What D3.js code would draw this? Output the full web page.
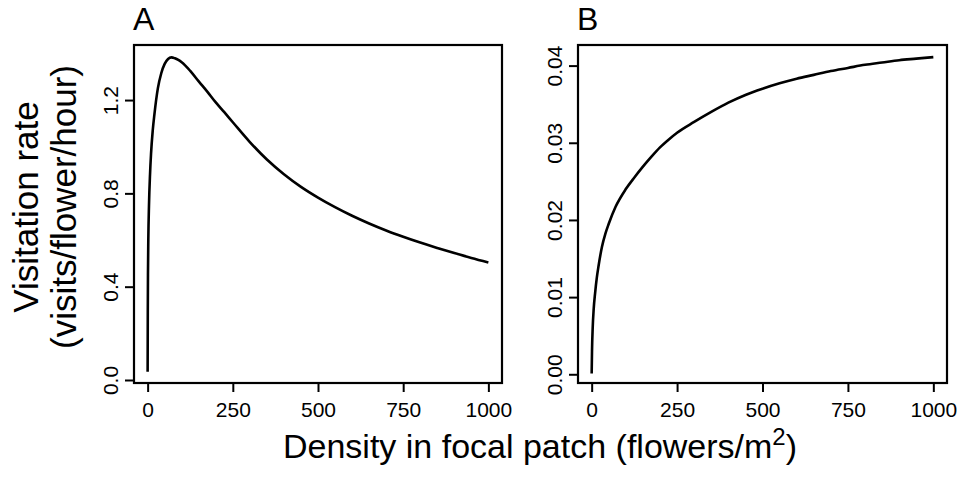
<!DOCTYPE html>
<html>
<head>
<meta charset="utf-8">
<script src="https://cdn.jsdelivr.net/npm/d3@7"></script>
<style>
  html, body { margin: 0; padding: 0; background: #fff; }
  svg { display: block; }
  text { font-family: "Liberation Sans", Arial, sans-serif; fill: #000; }
</style>
</head>
<body>
<svg id="chart" width="964" height="481"></svg>
<script>
// ---- Data ----
const densityA = [0, 0.5, 1, 2, 4, 7, 10, 15, 20, 30, 40, 50, 60, 70, 80, 90, 100, 125, 150, 175, 200, 225, 250, 300, 350, 400, 450, 500, 550, 600, 650, 700, 750, 800, 850, 900, 950, 1000];
const rateA = [0.035, 0.30, 0.45, 0.60, 0.75, 0.88, 0.97, 1.07, 1.14, 1.25, 1.315, 1.355, 1.376, 1.383, 1.379, 1.372, 1.362, 1.325, 1.28, 1.236, 1.19, 1.148, 1.105, 1.02, 0.945, 0.882, 0.828, 0.782, 0.741, 0.704, 0.671, 0.641, 0.614, 0.589, 0.566, 0.544, 0.523, 0.504];

const densityB = [0, 1, 3, 6, 10, 15, 20, 30, 40, 50, 70, 100, 125, 150, 175, 200, 225, 250, 300, 350, 400, 450, 500, 550, 600, 650, 700, 750, 800, 850, 900, 950, 1000];
const rateB = [0.0001, 0.003, 0.006, 0.0085, 0.0105, 0.0125, 0.014, 0.0165, 0.0182, 0.0195, 0.0217, 0.024, 0.0255, 0.0269, 0.0282, 0.0294, 0.0304, 0.0313, 0.0327, 0.0340, 0.0352, 0.0362, 0.0370, 0.0377, 0.0383, 0.0388, 0.0393, 0.0397, 0.0401, 0.0404, 0.0407, 0.0409, 0.0411];

const xTicks = [0, 250, 500, 750, 1000];
const yTicksA = [0, 0.4, 0.8, 1.2];
const yTicksB = [0, 0.01, 0.02, 0.03, 0.04];
const panelLabels = ["A", "B"];
const yTitleLines = ["Visitation rate", "(visits/flower/hour)"];
const xTitleMain = "Density in focal patch (flowers/m";
const xTitleSup = "2";
const xTitleEnd = ")";

// ---- Layout ----
const svg = d3.select("#chart");
const boxTop = 45, boxBottom = 383;
const FONT = '"Liberation Sans", Arial, sans-serif';

const panels = [
  { left: 134, right: 502, xs: densityA, ys: rateA, yDomain: [-0.0129, 1.436], yTicks: yTicksA, fmt: d3.format(".1f"), label: panelLabels[0] },
  { left: 578, right: 947, xs: densityB, ys: rateB, yDomain: [-0.00113, 0.04267], yTicks: yTicksB, fmt: d3.format(".2f"), label: panelLabels[1] }
];

panels.forEach(p => {
  const w = p.right - p.left;
  const x = d3.scaleLinear().domain([-40, 1040]).range([p.left, p.right]);
  const y = d3.scaleLinear().domain(p.yDomain).range([boxBottom, boxTop]);

  // x axis
  const gx = svg.append("g").attr("transform", `translate(0,${boxBottom})`)
    .call(d3.axisBottom(x).tickValues(xTicks).tickSize(9).tickPadding(10.5).tickFormat(d3.format("d")));
  gx.select(".domain").remove();
  gx.selectAll(".tick line").attr("stroke", "#000").attr("stroke-width", 2);
  gx.selectAll(".tick text").attr("font-size", 21).attr("font-family", FONT);

  // y axis
  const gy = svg.append("g").attr("transform", `translate(${p.left},0)`)
    .call(d3.axisLeft(y).tickValues(p.yTicks).tickSize(9).tickFormat(p.fmt));
  gy.select(".domain").remove();
  gy.selectAll(".tick line").attr("stroke", "#000").attr("stroke-width", 2);
  gy.selectAll(".tick text")
    .attr("font-size", 21)
    .attr("font-family", FONT)
    .attr("x", null).attr("dy", null).attr("y", 0)
    .attr("text-anchor", "middle")
    .attr("transform", "translate(-16,0) rotate(-90)");

  // curve
  const line = d3.line()
    .x((d, i) => x(p.xs[i]))
    .y((d, i) => y(p.ys[i]))
    .curve(d3.curveMonotoneX);
  svg.append("path")
    .datum(p.ys)
    .attr("d", line)
    .attr("fill", "none")
    .attr("stroke", "#000")
    .attr("stroke-width", 2.6)
    .attr("stroke-linejoin", "round")
    .attr("stroke-linecap", "butt");

  // box
  svg.append("rect")
    .attr("x", p.left).attr("y", boxTop)
    .attr("width", w).attr("height", boxBottom - boxTop)
    .attr("fill", "none").attr("stroke", "#000").attr("stroke-width", 2.2);

  // panel label
  svg.append("text")
    .attr("x", p.left - 1).attr("y", 30)
    .attr("font-size", 32)
    .text(p.label);
});

// y title
const yTitle = svg.append("text")
  .attr("transform", "translate(0,207) rotate(-90)")
  .attr("text-anchor", "middle")
  .attr("font-size", 35);
yTitle.append("tspan").attr("x", 0).attr("y", 38).text(yTitleLines[0]);
yTitle.append("tspan").attr("x", 0).attr("y", 76).text(yTitleLines[1]);

// x title
const xTitle = svg.append("text")
  .attr("x", 540).attr("y", 458)
  .attr("text-anchor", "middle")
  .attr("font-size", 34);
xTitle.append("tspan").text(xTitleMain);
xTitle.append("tspan").attr("font-size", 24).attr("dy", -13).text(xTitleSup);
xTitle.append("tspan").attr("dy", 13).text(xTitleEnd);
</script>
</body>
</html>
